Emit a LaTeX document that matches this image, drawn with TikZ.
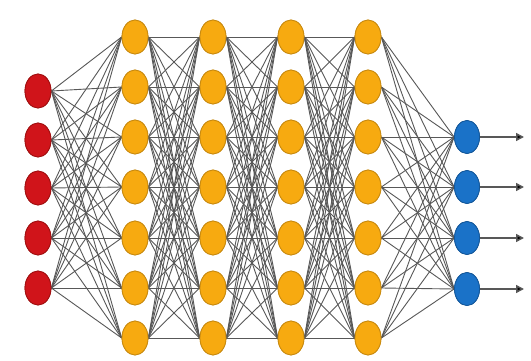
\documentclass[tikz,border=0pt]{standalone}
\usetikzlibrary{shapes.geometric,arrows.meta}
\definecolor{inred}{HTML}{D0141A}
\definecolor{inredd}{HTML}{A01010}
\definecolor{hidor}{HTML}{F7AA10}
\definecolor{hidord}{HTML}{C88A10}
\definecolor{outbl}{HTML}{1A72C8}
\definecolor{outbld}{HTML}{15589A}
\definecolor{edgegray}{HTML}{585858}
\begin{document}
\begin{tikzpicture}[x=1pt,y=-1pt,
  neuron/.style={ellipse,minimum width=26pt,minimum height=34pt,inner sep=0pt,line width=0.8pt},
  inneuron/.style={neuron,fill=inred,draw=inredd},
  hidneuron/.style={neuron,fill=hidor,draw=hidord},
  outneuron/.style={neuron,minimum width=25pt,minimum height=33pt,fill=outbl,draw=outbld},
  conn/.style={draw=edgegray,line width=0.9pt},
  outarrow/.style={draw=edgegray,line width=1.5pt,-{Triangle[length=8pt,width=8pt,fill=black]}}]
\useasboundingbox (0,0) rectangle (531,361);
\fill[white] (0,0) rectangle (531,361);
% input layer
\foreach \i/\y in {1/91,2/140,3/188,4/238,5/288}
  \node[inneuron] (I\i) at (38,\y) {};
% hidden layers
\foreach \l/\x in {1/135,2/213,3/291,4/368}
  \foreach \j/\y in {1/37,2/87,3/137,4/187,5/238,6/288,7/338}
    \node[hidneuron] (H\l-\j) at (\x,\y) {};
% output layer
\foreach \k/\y in {1/137,2/187,3/238,4/289}
  \node[outneuron] (O\k) at (467,\y) {};
% connectors
\foreach \i in {1,...,5}
  \foreach \j in {1,...,7}
    \path[conn] (I\i.east) -- (H1-\j.west);
\foreach \l/\m in {1/2,2/3,3/4}
  \foreach \i in {1,...,7}
    \foreach \j in {1,...,7}
      \path[conn] (H\l-\i.east) -- (H\m-\j.west);
\foreach \i in {1,...,7}
  \foreach \k in {1,...,4}
    \path[conn] (H4-\i.east) -- (O\k.west);
% redraw nodes on top of the connectors
\foreach \i/\y in {1/91,2/140,3/188,4/238,5/288}
  \node[inneuron] at (38,\y) {};
\foreach \l/\x in {1/135,2/213,3/291,4/368}
  \foreach \j/\y in {1/37,2/87,3/137,4/187,5/238,6/288,7/338}
    \node[hidneuron] at (\x,\y) {};
\foreach \k/\y in {1/137,2/187,3/238,4/289}
  \node[outneuron] at (467,\y) {};
% output arrows
\foreach \k/\y in {1/137,2/187,3/238,4/289}
  \coordinate (T\k) at (524,\y);
\foreach \k in {1,...,4}
  \draw[outarrow] (O\k.east) -- (T\k);
\end{tikzpicture}
\end{document}
